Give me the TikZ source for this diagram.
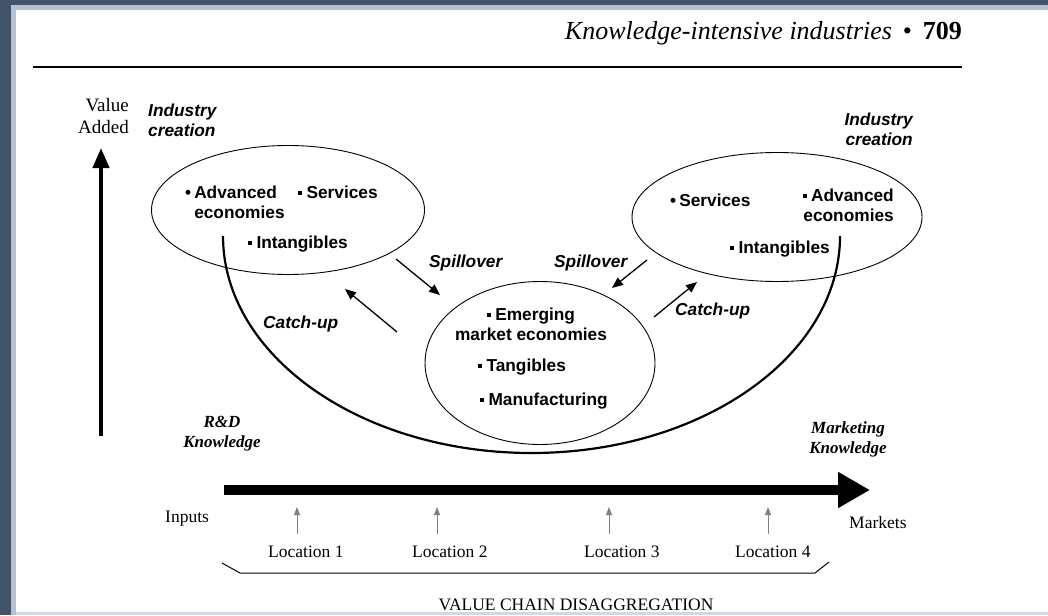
\documentclass[tikz,border=0pt]{standalone}
\usepackage{fontspec}
\setmainfont{Liberation Serif}
\setsansfont{Liberation Sans}
\usetikzlibrary{shapes.geometric,arrows.meta}
\definecolor{framedark}{HTML}{44546A}
\definecolor{framelight}{HTML}{B6C0CE}
\newcommand\sqb{\rule[0.2em]{3.8pt}{3.8pt}\hspace{4.5pt}}
\newcommand\rdb{\textbullet\hspace{3pt}}
\tikzset{
  cluster/.style={draw, ellipse, line width=0.9pt, inner sep=0pt},
  item/.style={font=\sffamily\bfseries\fontsize{17.3}{20}\selectfont, inner sep=0pt},
  flowlabel/.style={font=\sffamily\bfseries\itshape\fontsize{17.3}{20}\selectfont, inner sep=0pt},
  serif/.style={font=\fontsize{17.5}{20}\selectfont, inner sep=0pt},
  serifbi/.style={font=\bfseries\itshape\fontsize{17}{20}\selectfont, inner sep=0pt, align=center},
  flow/.style={line width=1.3pt, -{Triangle[length=11pt,width=9pt]}},
  locarrow/.style={gray, line width=0.8pt, -{Triangle[length=8pt,width=6pt]}}
}
\begin{document}
\begin{tikzpicture}[x=1pt,y=-1pt]
\useasboundingbox (0,0) rectangle (1048,615);
\fill[framedark] (0,0) rectangle (1048,5);
\fill[framedark] (0,0) rectangle (11,615);
\fill[framelight] (11,5) rectangle (1048,10);
\fill[framelight] (11,5) rectangle (16,615);
\fill[framelight!60] (16,612) rectangle (1048,615);

\node[anchor=base east, inner sep=0pt, font=\fontsize{26}{28}\selectfont] (runhead) at (962,40) {\textit{Knowledge-intensive industries} \,\textbullet\, \textbf{709}};
\draw[line width=2pt] (33,67) -- (962,67);

\node[serif, font=\fontsize{19}{21}\selectfont, align=right, anchor=base east] (va) at (129,133) {Value\\Added};
\node[flowlabel, align=left, anchor=base west] (icl) at (148,136) {Industry\\creation};
\node[flowlabel, align=right, anchor=base east] (icr) at (913,145) {Industry\\creation};

\node[cluster, minimum width=273pt, minimum height=129pt] (advl) at (288,210) {};
\node[cluster, minimum width=290pt, minimum height=129pt] (advr) at (777,217) {};
\node[cluster, minimum width=230pt, minimum height=163pt] (emg) at (540,363) {};

\node[item, align=left, anchor=base west] (advla) at (185,218) {\rdb Advanced\\\phantom{\rdb}economies};
\node[item, anchor=base west] (advlb) at (298,198) {\sqb Services};
\node[item, anchor=base west] (advlc) at (248,248) {\sqb Intangibles};

\node[item, anchor=base west] (advra) at (670,206) {\rdb Services};
\node[item, align=right, anchor=base east] (advrb) at (894,221) {\sqb Advanced\\economies};
\node[item, anchor=base west] (advrc) at (730,253) {\sqb Intangibles};

\node[item, align=center, anchor=base] (emga) at (531,340) {\sqb Emerging\\market economies};
\node[item, anchor=base west] (emgb) at (478,371) {\sqb Tangibles};
\node[item, anchor=base west] (emgc) at (480,405) {\sqb Manufacturing};

\draw[line width=2.2pt] (223,236) arc[start angle=180, end angle=0, x radius=308.5, y radius=217];

\node[flowlabel, anchor=base west] (spl) at (429,267) {Spillover};
\node[flowlabel, anchor=base west] (spr) at (554,267) {Spillover};
\node[flowlabel, anchor=base west] (cul) at (263,328) {Catch-up};
\node[flowlabel, anchor=base west] (cur) at (675,315) {Catch-up};
\coordinate (spla) at (396,259);
\coordinate (splb) at (440,295);
\coordinate (spra) at (647,260);
\coordinate (sprb) at (612,288);
\coordinate (cula) at (397,332);
\coordinate (culb) at (345,289);
\coordinate (cura) at (654,317);
\coordinate (curb) at (697,282);
\draw[flow] (spla) -- (splb);
\draw[flow] (spra) -- (sprb);
\draw[flow] (cula) -- (culb);
\draw[flow] (cura) -- (curb);

\coordinate (vabottom) at (101,436);
\coordinate (vatop) at (101,148);
\draw[line width=4pt, -{Triangle[length=20pt,width=16pt]}] (vabottom) -- (vatop);

\node[serifbi, anchor=base] (rd) at (222,447) {R\&D\\Knowledge};
\node[serifbi, anchor=base] (mk) at (848,453) {Marketing\\Knowledge};

\coordinate (vcstart) at (224,490);
\coordinate (vcend) at (870,490);
\draw[line width=10pt, -{Triangle[length=32pt,width=34pt]}] (vcstart) -- (vcend);

\node[serif, anchor=base west] (inputs) at (165,522) {Inputs};
\node[serif, anchor=base west] (markets) at (849,528) {Markets};

\foreach \i/\x/\lx in {1/297/268,2/437/412,3/609/584,4/768/735}{
  \node[serif, anchor=base west] (loc\i) at (\lx,557) {Location \i};
  \coordinate (up\i) at (\x,507);
  \coordinate (dn\i) at (\x,534);
  \draw[locarrow] (dn\i) -- (up\i);
}
\draw[line width=1pt] (222,563) -- (240,573) -- (815,573) -- (829,562);
\node[serif, anchor=base] (vcd) at (576,610) {VALUE CHAIN DISAGGREGATION};
\end{tikzpicture}
\end{document}
